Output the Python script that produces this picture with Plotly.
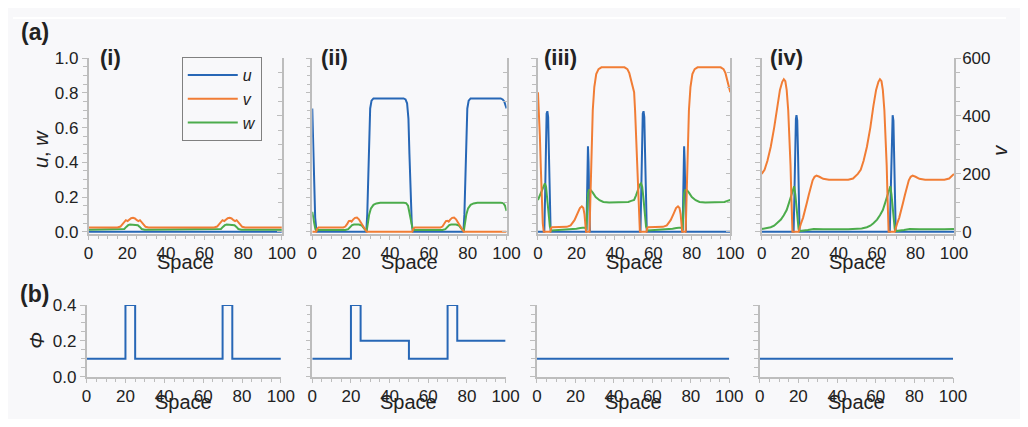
import plotly.graph_objects as go

# ---------------- data ----------------
# Panel (i)
u1_x = [0, 100]
u1_y = [0, 0]
v1_x = [0, 15, 16.5, 17.5, 18.5, 19.3, 20.2, 21, 22, 23, 24, 25, 25.8, 26.6, 27.5, 28.5, 29.5, 31,
        65, 66.5, 67.5, 68.5, 69.3, 70.2, 71, 72, 73, 74, 75, 75.8, 76.6, 77.5, 78.5, 79.5, 81, 100]
v1_y = [15, 15, 18, 26, 36, 40, 37, 42, 47, 48, 46, 40, 37, 40, 32, 22, 17, 15,
        15, 18, 26, 36, 40, 37, 42, 47, 48, 46, 40, 37, 40, 32, 22, 17, 15, 15]
w1_x = [0, 17, 18.5, 19.5, 20.5, 21.5, 24.5, 25.5, 26.5, 27.5, 29,
        67, 68.5, 69.5, 70.5, 71.5, 74.5, 75.5, 76.5, 77.5, 79, 100]
w1_y = [0.012, 0.012, 0.016, 0.028, 0.038, 0.042, 0.042, 0.038, 0.028, 0.016, 0.012,
        0.012, 0.016, 0.028, 0.038, 0.042, 0.042, 0.038, 0.028, 0.016, 0.012, 0.012]

# Panel (ii)
u2_x = [0, 0.5, 1, 1.5, 2.2, 27.8, 28.3, 28.8, 29.3, 29.8, 30.5, 31.5, 47, 48, 48.8, 49.5, 50, 50.6, 51.2, 51.8,
        77.8, 78.3, 78.8, 79.3, 79.8, 80.5, 81.5, 97, 98, 98.8, 99.5, 100]
u2_y = [0.71, 0.5, 0.25, 0.08, 0, 0, 0.1, 0.35, 0.6, 0.71, 0.755, 0.768, 0.768, 0.762, 0.74, 0.65, 0.45, 0.2, 0.05, 0,
        0, 0.1, 0.35, 0.6, 0.71, 0.755, 0.768, 0.768, 0.762, 0.75, 0.73, 0.71]
v2_x = [0, 2.0, 2.5, 3.2, 16, 17, 18, 18.8, 19.5, 20.2, 21, 22, 23, 24, 25, 26, 27, 28, 51.5, 52, 52.8,
        66, 67, 68, 68.8, 69.5, 70.2, 71, 72, 73, 74, 75, 76, 77, 78, 100]
v2_y = [0, 0, 10, 15, 15, 18, 27, 37, 38, 35, 42, 48, 49, 43, 32, 22, 12, 0, 0, 10, 15,
        15, 18, 27, 37, 38, 35, 42, 48, 49, 43, 32, 22, 12, 0, 0]
w2_x = [0, 0.5, 1, 1.6, 2.3, 3, 17, 18.5, 19.5, 20.5, 21.5, 24, 25.5, 26.5, 27.5, 28, 28.5, 29.3, 30.2, 31.5, 33, 35,
        47, 48.3, 49.3, 50.2, 51, 51.8, 52.5, 67, 68.5, 69.5, 70.5, 71.5, 74, 75.5, 76.5, 77.5, 78, 78.5, 79.3,
        80.2, 81.5, 83, 85, 97, 98.3, 99.2, 100]
w2_y = [0.115, 0.09, 0.05, 0.015, 0.005, 0.01, 0.01, 0.015, 0.028, 0.038, 0.042, 0.042, 0.035, 0.02, 0.008, 0.005,
        0.04, 0.1, 0.135, 0.155, 0.163, 0.167, 0.167, 0.165, 0.15, 0.1, 0.04, 0.008, 0.01, 0.01, 0.015, 0.028,
        0.038, 0.042, 0.042, 0.035, 0.02, 0.008, 0.005, 0.04, 0.1, 0.135, 0.155, 0.163, 0.167, 0.167, 0.165,
        0.15, 0.12]

# Panel (iii)
u3_x = [0, 3.3, 3.7, 4.1, 4.5, 4.9, 5.3, 5.7, 6.1, 6.6, 25.2, 25.5, 25.8, 26.0, 26.3, 26.6, 27,
        53.3, 53.7, 54.1, 54.5, 54.9, 55.3, 55.7, 56.1, 56.6, 75.2, 75.5, 75.8, 76.0, 76.3, 76.6, 77, 100]
u3_y = [0, 0, 0.2, 0.55, 0.68, 0.694, 0.66, 0.45, 0.15, 0, 0, 0.25, 0.47, 0.492, 0.4, 0.12, 0,
        0, 0.2, 0.55, 0.68, 0.694, 0.66, 0.45, 0.15, 0, 0, 0.25, 0.47, 0.492, 0.4, 0.12, 0, 0]
v3_x = [0, 0.5, 1, 1.5, 2, 2.5, 3, 6.5, 6.8, 7.3, 15, 17, 19, 20.5, 21.8, 22.8, 23.6, 24.2, 24.6, 25,
        26.8, 27.2, 27.8, 28.5, 29.3, 30.3, 31.5, 33, 45, 46.5, 47.5, 48.5, 49.5, 50,
        50.5, 51, 51.5, 52, 52.5, 53, 56.5, 56.8, 57.3, 65, 67, 69, 70.5, 71.8, 72.8, 73.6, 74.2, 74.6, 75,
        76.8, 77.2, 77.8, 78.5, 79.3, 80.3, 81.5, 83, 95, 96.5, 97.5, 98.5, 99.5, 100]
v3_y = [482, 420, 330, 220, 110, 30, 0, 0, 12, 16, 17, 22, 40, 62, 82, 88, 82, 60, 30, 0,
        0, 100, 280, 420, 500, 545, 562, 568, 568, 562, 548, 525, 495, 482,
        420, 330, 220, 110, 30, 0, 0, 12, 16, 17, 22, 40, 62, 82, 88, 82, 60, 30, 0,
        0, 100, 280, 420, 500, 545, 562, 568, 568, 562, 548, 525, 495, 482]
w3_x = [0, 1, 2, 3, 3.6, 4.2, 4.8, 5.5, 6.2, 7, 10, 17, 20, 22, 24.5, 25.2, 25.6, 26.0, 26.5, 27.3, 28.5, 30,
        32, 34, 37, 45, 47, 48.5, 50, 51, 52, 53, 53.6, 54.2, 54.8, 55.5, 56.2, 57, 60, 67, 70, 72, 74.5,
        75.2, 75.6, 76, 76.5, 77.3, 78.5, 80, 82, 84, 87, 95, 97, 98.5, 100]
w3_y = [0.183, 0.21, 0.245, 0.272, 0.279, 0.26, 0.2, 0.1, 0.03, 0.008, 0.01, 0.012, 0.018, 0.022, 0.024, 0.01,
        0.12, 0.22, 0.24, 0.242, 0.225, 0.2, 0.182, 0.172, 0.169, 0.169, 0.172, 0.178, 0.183, 0.21, 0.245,
        0.272, 0.279, 0.26, 0.2, 0.1, 0.03, 0.008, 0.01, 0.012, 0.018, 0.022, 0.024, 0.01, 0.12, 0.22, 0.24,
        0.242, 0.225, 0.2, 0.182, 0.172, 0.169, 0.169, 0.172, 0.178, 0.183]

# Panel (iv)
u4_x = [0, 16.6, 17, 17.4, 17.8, 18.1, 18.5, 18.9, 19.3, 19.7,
        66.6, 67, 67.4, 67.8, 68.1, 68.5, 68.9, 69.3, 69.7, 100]
u4_y = [0, 0, 0.2, 0.5, 0.65, 0.671, 0.64, 0.45, 0.15, 0,
        0, 0.2, 0.5, 0.65, 0.671, 0.64, 0.45, 0.15, 0, 0]
v4_x = [0, 1.5, 3, 4.7, 6.5, 8.1, 9.5, 10.7, 11.5, 12.3, 13, 13.8, 14.5, 15, 15.5, 16, 19.2, 19.7, 20.5,
        21.5, 22.5, 23.5, 24.5, 25.5, 26.5, 27.5, 28.5, 30, 32, 35, 45, 47.5,
        50, 51.5, 53, 54.7, 56.5, 58.1, 59.5, 60.7, 61.5, 62.3, 63, 63.8, 64.5, 65, 65.5, 66, 69.2, 69.7, 70.5,
        71.5, 72.5, 73.5, 74.5, 75.5, 76.5, 77.5, 78.5, 80, 82, 85, 95, 97.5, 100]
v4_y = [200, 214, 245, 293, 360, 435, 490, 518, 527, 520, 490, 420, 326, 230, 106, 0, 0, 15, 30,
        48, 70, 100, 128, 155, 178, 190, 194, 190, 183, 180, 180, 184,
        200, 214, 245, 293, 360, 435, 490, 518, 527, 520, 490, 420, 326, 230, 106, 0, 0, 15, 30,
        48, 70, 100, 128, 155, 178, 190, 194, 190, 183, 180, 180, 184, 200]
w4_x = [0, 2, 4.7, 6.5, 8.1, 10, 11.5, 13, 14, 15, 15.8, 16.5, 16.9, 17.5, 18, 18.5, 19.2, 19.8, 21, 24, 27,
        29, 32, 45, 50, 52, 54.7, 56.5, 58.1, 60, 61.5, 63, 64, 65, 65.8, 66.5, 66.9, 67.5, 68, 68.5, 69.2,
        69.8, 71, 74, 77, 79, 82, 95, 100]
w4_y = [0.016, 0.019, 0.026, 0.035, 0.049, 0.07, 0.095, 0.125, 0.159, 0.195, 0.232, 0.262, 0.262, 0.214, 0.14,
        0.07, 0.015, 0.004, 0.005, 0.01, 0.016, 0.017, 0.015, 0.015, 0.016, 0.019, 0.026, 0.035, 0.049, 0.07,
        0.095, 0.125, 0.159, 0.195, 0.232, 0.262, 0.262, 0.214, 0.14, 0.07, 0.015, 0.004, 0.005, 0.01, 0.016,
        0.017, 0.015, 0.015, 0.016]

# Panel (b): phi (step functions, value holds until next x)
phi1_x = [0, 20, 25, 70, 75, 100]
phi1_y = [0.1, 0.4, 0.1, 0.4, 0.1, 0.1]
phi2_x = [0, 20, 25, 50, 70, 75, 100]
phi2_y = [0.1, 0.4, 0.2, 0.1, 0.4, 0.2, 0.2]
phi3_x = [0, 100]
phi3_y = [0.1, 0.1]
phi4_x = [0, 100]
phi4_y = [0.1, 0.1]

panel_labels = ["(i)", "(ii)", "(iii)", "(iv)"]
x_ticks = [0, 20, 40, 60, 80, 100]

# ---------------- styling ----------------
# The page keeps the browser's default 8px body margin, so the figure is
# 16px smaller than the 1028x427 window and all positions below are page pixels.
PAGE_W, PAGE_H, OFF = 1028, 427, 8
W, H = PAGE_W - 2 * OFF, PAGE_H - 2 * OFF
FONT = "Liberation Sans, Arial, sans-serif"
TXT = "#222222"
GRAY = "#bdbdbd"
BG = "#f8f8fa"
C_U, C_V, C_W = "#2767b6", "#f17d35", "#4cac4c"

top_x_px = [(85, 282), (313, 511), (543, 739), (771, 967)]
bot_x_px = [(83, 281), (313, 510), (542, 738), (769, 966)]
top_y_px = (51, 235)
bot_y_px = (310, 385)


def fx(p):
    return (p - OFF) / W


def fy(p):
    return 1 - (p - OFF) / H


def ref(prefix, n):
    return prefix if n == 1 else f"{prefix}{n}"


def key(prefix, n):
    return f"{prefix}axis" if n == 1 else f"{prefix}axis{n}"


fig = go.Figure()

top_data = [
    (u1_x, u1_y, v1_x, v1_y, w1_x, w1_y),
    (u2_x, u2_y, v2_x, v2_y, w2_x, w2_y),
    (u3_x, u3_y, v3_x, v3_y, w3_x, w3_y),
    (u4_x, u4_y, v4_x, v4_y, w4_x, w4_y),
]
bot_data = [(phi1_x, phi1_y), (phi2_x, phi2_y), (phi3_x, phi3_y), (phi4_x, phi4_y)]

for k in range(4):
    ux, uy, vx, vy, wx, wy = top_data[k]
    xa = ref("x", k + 1)
    yl = ref("y", k + 1)
    yr = ref("y", k + 5)
    show = k == 0
    fig.add_trace(go.Scatter(x=ux, y=uy, mode="lines", name="<i>u</i>", line=dict(color=C_U, width=2),
                             xaxis=xa, yaxis=yl, showlegend=show, legendrank=1))
    fig.add_trace(go.Scatter(x=wx, y=wy, mode="lines", name="<i>w</i>", line=dict(color=C_W, width=2),
                             xaxis=xa, yaxis=yl, showlegend=show, legendrank=3))
    fig.add_trace(go.Scatter(x=vx, y=vy, mode="lines", name="<i>v</i>", line=dict(color=C_V, width=2),
                             xaxis=xa, yaxis=yr, showlegend=show, legendrank=2))
    bx, by = bot_data[k]
    fig.add_trace(go.Scatter(x=bx, y=by, mode="lines", line=dict(color=C_U, width=2, shape="hv"),
                             xaxis=ref("x", k + 5), yaxis=ref("y", k + 9), showlegend=False))

common = dict(showline=True, linecolor=GRAY, linewidth=1.5, ticks="outside", tickcolor=GRAY,
              tickwidth=1.3, ticklen=5, showgrid=False, zeroline=False,
              tickfont=dict(family=FONT, size=17, color=TXT))


def minor(step, side="outside"):
    return dict(dtick=step, tick0=0, ticks=side, ticklen=4, tickcolor=GRAY, tickwidth=1.3, showgrid=False)


layout = {}
for k in range(4):
    n = k + 1
    layout[key("x", n)] = dict(common, domain=[fx(top_x_px[k][0]), fx(top_x_px[k][1])],
                               anchor=ref("y", n), range=[0, 100], tickmode="array", tickvals=x_ticks,
                               ticklabelstandoff=-2, minor=minor(5))
    layout[key("y", n)] = dict(common, domain=[fy(top_y_px[1]), fy(top_y_px[0])],
                               anchor=ref("x", n), range=[-0.01, 1.0005], tickmode="linear", tick0=0,
                               dtick=0.2, tickformat=".1f", showticklabels=(k == 0), minor=minor(0.05))
    side = "outside" if k == 3 else "inside"
    layout[key("y", n + 4)] = dict(common, overlaying=ref("y", n), side="right", anchor=ref("x", n),
                                   range=[-6, 600.3], tickmode="linear", tick0=0, dtick=200, ticks=side,
                                   showticklabels=(k == 3), ticklabelstandoff=-2, minor=minor(50, side))
    layout[key("x", n + 4)] = dict(common, domain=[fx(bot_x_px[k][0]), fx(bot_x_px[k][1])],
                                   anchor=ref("y", n + 8), range=[0, 100], tickmode="array", tickvals=x_ticks,
                                   ticklabelstandoff=-2, minor=minor(5))
    layout[key("y", n + 8)] = dict(common, domain=[fy(bot_y_px[1]), fy(bot_y_px[0])],
                                   anchor=ref("x", n + 4), range=[0, 0.4002], tickmode="linear", tick0=0,
                                   dtick=0.2, tickformat=".1f", showticklabels=(k == 0), minor=minor(0.05))

annotations = []


def ann(text, x, y, size, bold=False, angle=0):
    t = f"<b>{text}</b>" if bold else text
    annotations.append(dict(text=t, x=fx(x), y=fy(y), xref="paper", yref="paper", showarrow=False,
                            xanchor="center", yanchor="middle", textangle=angle,
                            font=dict(family=FONT, size=size, color=TXT)))


ann("(a)", 30, 24, 23, bold=True)
ann("(b)", 30, 298, 23, bold=True)
for lab, cx in zip(panel_labels, [107, 336, 566, 796]):
    ann(lab, cx, 50, 22, bold=True)
ann("<i>u</i>, <i>w</i>", 36, 146, 20, angle=-90)
ann("<i>Φ</i>", 33, 347, 20, angle=-90)
ann("<i>v</i>", 1013, 148, 20, angle=-90)
for k in range(4):
    ann("Space", (top_x_px[k][0] + top_x_px[k][1]) / 2, 265, 20)
    ann("Space", (bot_x_px[k][0] + bot_x_px[k][1]) / 2, 412, 20)

layout.update(
    width=W, height=H, margin=dict(l=0, r=0, t=0, b=0), autosize=False,
    paper_bgcolor=BG, plot_bgcolor="rgba(0,0,0,0)",
    annotations=annotations,
    shapes=[dict(type="rect", xref="paper", yref="paper", x0=0, x1=1, y0=fy(10), y1=1,
                 fillcolor="white", line=dict(width=0), layer="below")],
    legend=dict(x=fx(180), y=fy(50), xanchor="left", yanchor="top", bordercolor="#808080", borderwidth=1,
                bgcolor="rgba(0,0,0,0)", font=dict(family=FONT, size=16, color=TXT), itemwidth=50,
                traceorder="normal", tracegroupgap=0),
    showlegend=True,
)
fig.update_layout(layout)
fig.write_html("out.html", config={"responsive": False, "displayModeBar": False})
